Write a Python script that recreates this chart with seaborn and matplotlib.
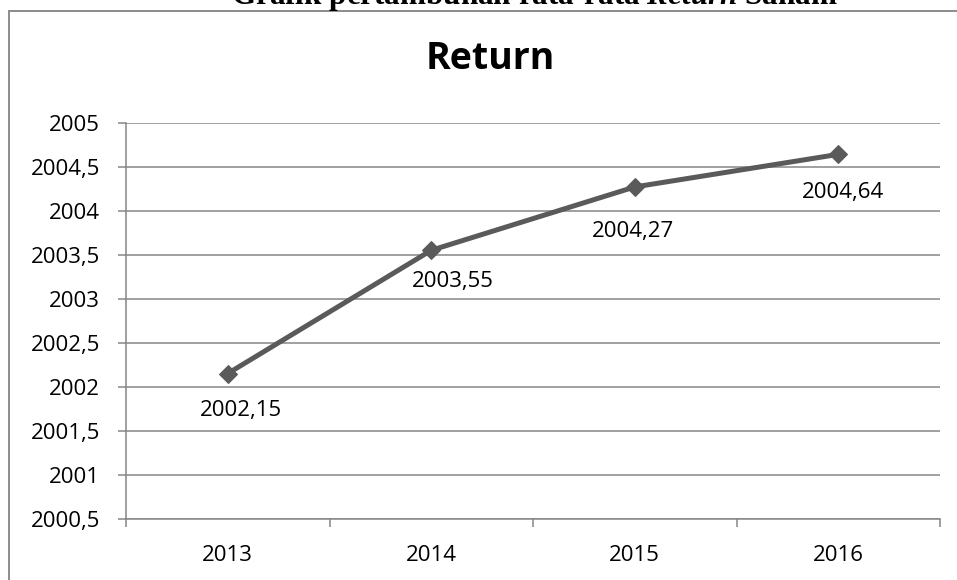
import matplotlib
matplotlib.use("Agg")
import matplotlib.pyplot as plt
from matplotlib.patches import Rectangle
import seaborn as sns
import pandas as pd

# ---- data ----
years = ["2013", "2014", "2015", "2016"]
returns = [2002.15, 2003.55, 2004.27, 2004.64]
y_ticks = [2000.5, 2001, 2001.5, 2002, 2002.5, 2003, 2003.5, 2004, 2004.5, 2005]
chart_title = "Return"
page_title = r"Grafik pertambuhan rata-rata $\mathit{Return}$ Saham"

# label offsets (pixels) mimicking the reference placement
label_offsets = [(13, -37), (22, -31), (-2, -45), (5, -38)]

def fmt(v):
    s = ("%.2f" % v).rstrip("0").rstrip(".")
    return s.replace(".", ",")

df = pd.DataFrame({"Tahun": years, "Return": returns})

sns.set_theme(style="white")
plt.rcParams["font.family"] = ["Open Sans", "DejaVu Sans"]
plt.rcParams["mathtext.fontset"] = "custom"
plt.rcParams["mathtext.rm"] = "Liberation Serif:bold"
plt.rcParams["mathtext.it"] = "Liberation Serif:italic:bold"
plt.rcParams["mathtext.bf"] = "Liberation Serif:bold"

W, H = 957, 580
fig = plt.figure(figsize=(W / 100, H / 100), dpi=100)
fig.patch.set_facecolor("white")

ax_l, ax_r, ax_t, ax_b = 126, 940, 122.7, 518.7
ax = fig.add_axes([ax_l / W, 1 - ax_b / H, (ax_r - ax_l) / W, (ax_b - ax_t) / H])

grey = "#868686"
line_col = "#5a5a5a"
fs = 16

sns.lineplot(data=df, x="Tahun", y="Return", ax=ax, color=line_col,
             linewidth=3.6, marker="D", markersize=9, markeredgecolor=line_col,
             markerfacecolor=line_col, sort=False, legend=False)

ax.set_xlim(-0.5, len(years) - 0.5)
ax.set_ylim(y_ticks[0], y_ticks[-1])
ax.set_yticks(y_ticks)
ax.set_yticklabels([fmt(v) for v in y_ticks])
ax.set_xticks(range(len(years)))
ax.set_xticklabels(years)
ax.set_xticks([i - 0.5 for i in range(len(years) + 1)], minor=True)
ax.set_xlabel("")
ax.set_ylabel("")

ax.tick_params(axis="x", which="major", length=0, pad=19, labelsize=fs, labelcolor="black")
ax.tick_params(axis="x", which="minor", length=5.8, width=1.1, color=grey, direction="out", bottom=True)
ax.tick_params(axis="y", which="major", length=5.8, width=1.1, color=grey, direction="out",
               pad=13, labelsize=fs, labelcolor="black", left=True)

ax.grid(axis="y", color=grey, linewidth=1.1)
ax.grid(axis="x", visible=False)
ax.set_axisbelow(True)
for side in ["top", "right"]:
    ax.spines[side].set_visible(False)
for side in ["left", "bottom"]:
    ax.spines[side].set_color(grey)
    ax.spines[side].set_linewidth(1.1)

for i, (yr, v) in enumerate(zip(years, returns)):
    dx, dy = label_offsets[i]
    ax.annotate(fmt(v), xy=(i, v), xytext=(dx, dy), textcoords="offset pixels",
                ha="center", va="center", fontsize=fs, color="black")

# chart title
fig.text(490 / W, 1 - 69 / H, chart_title, ha="center", va="baseline",
         fontsize=27, fontweight="bold", color="black")

# page title (cut off at the top, as in the reference)
fig.text(534 / W, 1 - 4 / H, page_title, ha="center", va="baseline",
         fontsize=22.4, color="black", family="Liberation Serif", fontweight="bold")

# chart frame
fig.add_artist(Rectangle((9 / W, -0.2), 1.2, 1.2 - 11 / H, transform=fig.transFigure,
                         fill=False, edgecolor="#8c8c8c", linewidth=1.4))

fig.savefig("out.png", dpi=100)
